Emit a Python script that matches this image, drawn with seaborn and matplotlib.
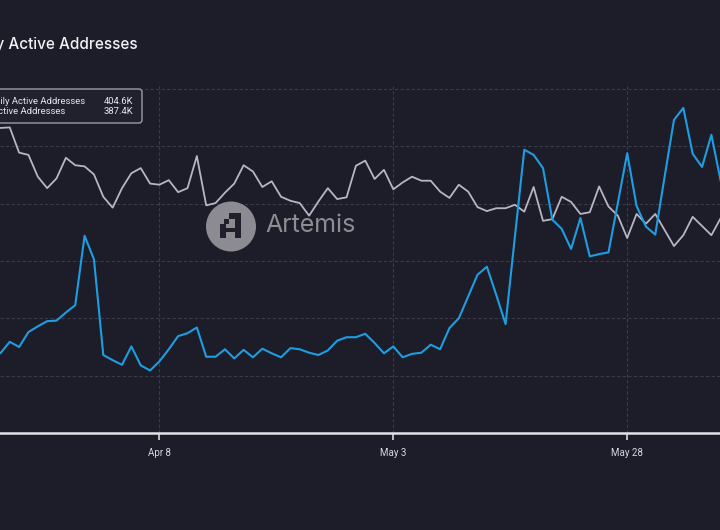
import pandas as pd
import matplotlib.pyplot as plt
import matplotlib.dates as mdates
from matplotlib import font_manager
from matplotlib.patches import FancyBboxPatch, Circle, Rectangle
import seaborn as sns


BG = '#1c1d29'
GRAY_LINE = '#b8b6c4'
BLUE_LINE = '#1e9ee0'

# daily values, thousands of addresses
START = '2024-03-22'
gray_series = [532, 533, 489, 485, 447, 427, 444, 480, 467, 465, 451, 412, 393, 427, 453, 462,
               435, 433, 441, 420, 427, 483, 397, 401, 419, 435, 467, 456, 429, 439, 412, 405,
               401, 379, 404, 427, 408, 411, 466,
               475, 443, 459, 425, 437, 447, 440, 440, 421, 410, 433, 421, 394, 387, 392, 392,
               398, 386, 429, 370, 373, 412, 403, 382, 385, 430, 395, 379, 340, 382, 365, 382,
               354, 326, 345, 377, 361, 345, 375]
blue_series = [139, 159, 150, 176, 186, 195, 196, 210, 223, 344, 303, 136, 127, 119, 151, 118,
               109, 125, 146, 169, 174, 184, 133, 133, 146, 130, 145, 132, 147, 139, 132, 148,
               146, 140, 136, 144, 161, 167, 167,
               173, 157, 139, 151, 132, 138, 140, 154, 146, 183, 200, 238, 276, 290, 241, 190,
               343, 494, 485, 462, 372, 356, 321, 375, 308, 312, 315, 401, 488, 396, 360, 346,
               447, 546, 567, 487, 464, 520, 439]
tick_dates = ['2024-04-08', '2024-05-03', '2024-05-28']
tooltip_labels = ['Daily Active Addresses', 'Active Addresses']
tooltip_values = ['404.6K', '387.4K']


def px(x, y):
    # image pixel (top-left origin) -> figure fraction
    return x / 720, 1 - y / 530


sns.set_theme(style='dark')
plt.rcParams['font.family'] = ['Inter', 'DejaVu Sans']

installed = {f.name for f in font_manager.fontManager.ttflist}
narrow = 'Liberation Sans Narrow' if 'Liberation Sans Narrow' in installed else 'Roboto'

dates = pd.date_range(START, periods=len(gray_series), freq='D')
df = pd.DataFrame({'date': dates, 'gray': gray_series, 'blue': blue_series})

fig = plt.figure(figsize=(7.2, 5.3), dpi=100, facecolor=BG)
ax = fig.add_axes([0, 97 / 530, 1, (433 - 86.1) / 530])
ax.set_facecolor(BG)

sns.lineplot(data=df, x='date', y='gray', color=GRAY_LINE, linewidth=1.3, ax=ax, zorder=3)
sns.lineplot(data=df, x='date', y='blue', color=BLUE_LINE, linewidth=1.5, ax=ax, zorder=4)

ax.set_xlim(dates[0] - pd.Timedelta(hours=1), dates[0] + pd.Timedelta(days=76.92))
ax.set_ylim(0, 605)
ax.set_xlabel('')
ax.set_ylabel('')

ax.set_yticks(range(0, 601, 100))
ax.set_yticklabels([])
ax.set_xticks(pd.to_datetime(tick_dates))
ax.xaxis.set_major_formatter(mdates.DateFormatter('%b %-d'))
ax.tick_params(axis='y', length=0)
ax.tick_params(axis='x', direction='out', length=5, width=1.2, color='#d8d8e0',
               labelsize=7, labelcolor='#d8d8e0', pad=6, bottom=True)
for lab in ax.get_xticklabels():
    lab.set_family([narrow, 'DejaVu Sans'])

ax.grid(True, color='#3a3c4b', linestyle=(0, (3, 2)), linewidth=0.8)
for side in ['left', 'right', 'top']:
    ax.spines[side].set_visible(False)
ax.spines['bottom'].set_color('#e2e2ea')
ax.spines['bottom'].set_linewidth(1.8)
ax.spines['bottom'].set_zorder(5)

# watermark
fig.add_artist(Circle((231, 530 - 226.5), 25, transform=None, facecolor='#8c8b92',
                      edgecolor='none', zorder=1.5))
for (x0, y0, x1, y1) in [(229, 213, 241, 219), (224, 219, 229, 224), (220, 224, 226, 238),
                         (235, 213, 241, 238), (220, 228, 241, 232)]:
    fig.add_artist(Rectangle((x0, 530 - y1), x1 - x0, y1 - y0, transform=None,
                             facecolor='#1f202b', edgecolor='none', zorder=1.6))
fig.text(*px(265, 226), 'Artemis', ha='left', va='center', fontsize=18,
         color='#8e8d94', zorder=1.6)

# title (cropped on the left in the original)
fig.text(*px(138, 44), 'Daily Active Addresses', ha='right', va='center', fontsize=11,
         color='#f2f2f6', fontweight='medium')

# tooltip box
fig.add_artist(FancyBboxPatch((-12, 530 - 123), 154, 34, transform=None,
                              boxstyle='round,pad=0,rounding_size=3',
                              facecolor='#20212d', edgecolor='#9c9ca8', linewidth=1, zorder=6))
for lab, val, ytxt, xend in zip(tooltip_labels, tooltip_values, [101, 112], [85, 65]):
    fig.text(*px(xend, ytxt), lab, ha='right', va='center', fontsize=6.8, color='#e6e6ee',
             family=['Roboto', 'DejaVu Sans'], zorder=7)
    fig.text(*px(133, ytxt), val, ha='right', va='center', fontsize=6.8, color='#e6e6ee',
             family=['Roboto', 'DejaVu Sans'], zorder=7)

fig.savefig('out.png', dpi=100, facecolor=BG)
plt.close()
